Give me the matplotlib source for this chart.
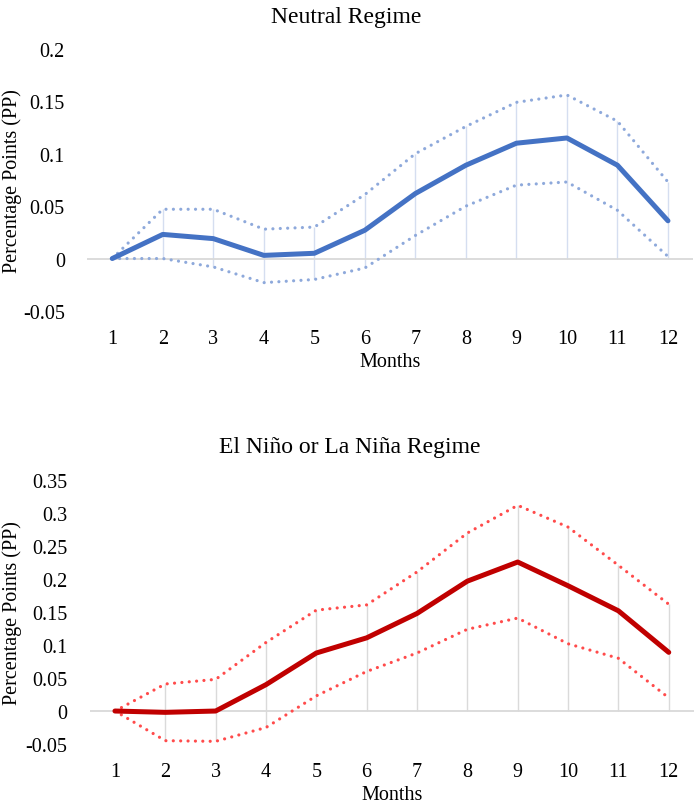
import numpy as np
from matplotlib import pyplot as plt

plt.rcParams["font.family"] = ["Liberation Serif", "DejaVu Serif"]

months = list(range(1, 13))

# Neutral regime
neutral_mean = [0, 0.023, 0.019, 0.003, 0.005, 0.027, 0.062, 0.089, 0.110, 0.115, 0.089, 0.036]
neutral_upper = [0, 0.047, 0.047, 0.028, 0.030, 0.061, 0.100, 0.126, 0.149, 0.156, 0.131, 0.073]
neutral_lower = [0, 0.0, -0.008, -0.023, -0.020, -0.009, 0.022, 0.050, 0.070, 0.073, 0.046, 0.002]

# El Nino / La Nina regime
enso_mean = [0, -0.002, 0.0, 0.040, 0.088, 0.111, 0.148, 0.197, 0.226, 0.190, 0.152, 0.089]
enso_upper = [0, 0.041, 0.048, 0.104, 0.153, 0.161, 0.211, 0.270, 0.312, 0.279, 0.221, 0.162]
enso_lower = [0, -0.045, -0.046, -0.025, 0.023, 0.060, 0.088, 0.124, 0.141, 0.102, 0.080, 0.020]

neutral_ticks = [-0.05, 0, 0.05, 0.1, 0.15, 0.2]
enso_ticks = [-0.05, 0, 0.05, 0.1, 0.15, 0.2, 0.25, 0.3, 0.35]


def draw_panel(ax, mean, upper, lower, yticks, main_color, band_color, drop_color):
    x = np.array(months)
    lo = np.minimum(0, np.minimum(lower, mean))
    hi = np.maximum(0, np.maximum(upper, mean))
    ax.vlines(x, lo, hi, color=drop_color, lw=1.0, zorder=1)
    ax.axhline(0, color="#D9D9D9", lw=1.3, zorder=1)
    dots = (0, (0.01, 2.3))
    ax.plot(x, upper, color=band_color, lw=2.3, linestyle=dots,
            dash_capstyle="round", zorder=2)
    ax.plot(x, lower, color=band_color, lw=2.3, linestyle=dots,
            dash_capstyle="round", zorder=2)
    ax.plot(x, mean, color=main_color, lw=3.6, solid_capstyle="round",
            solid_joinstyle="round", zorder=3)
    ax.set_xlim(0.5, 12.5)
    ax.set_ylim(yticks[0], yticks[-1])
    ax.set_yticks(yticks)
    ax.set_yticklabels([f"{t:g}" for t in yticks])
    ax.set_xticks(months)
    ax.tick_params(axis="y", length=0, pad=16, labelsize=14.5)
    ax.tick_params(axis="x", length=0, pad=13, labelsize=14.5)
    for s in ax.spines.values():
        s.set_visible(False)
    ax.set_xlabel("Months", fontsize=14.5, labelpad=3)


fig = plt.figure(figsize=(6.96, 8.04), dpi=100)

ax1 = fig.add_axes([0.125, 0.612, 0.871, 0.326])
draw_panel(ax1, neutral_mean, neutral_upper, neutral_lower, neutral_ticks,
           "#4472C4", "#8EA9DB", "#D5DEF0")
ax1.set_ylabel("Percentage Points (PP)", fontsize=14.5)
ax1.yaxis.set_label_coords(-0.107, 0.5)

ax2 = fig.add_axes([0.129, 0.0734, 0.868, 0.328])
draw_panel(ax2, enso_mean, enso_upper, enso_lower, enso_ticks,
           "#C00000", "#FF4B4B", "#DADADA")
ax2.set_ylabel("Percentage Points (PP)", fontsize=14.5)
ax2.yaxis.set_label_coords(-0.112, 0.5)

fig.text(0.497, 0.978, "Neutral Regime", ha="center", va="center", fontsize=17)
fig.text(0.503, 0.444, "El Niño or La Niña Regime", ha="center", va="center", fontsize=17)

fig.savefig("out.png", dpi=100)
